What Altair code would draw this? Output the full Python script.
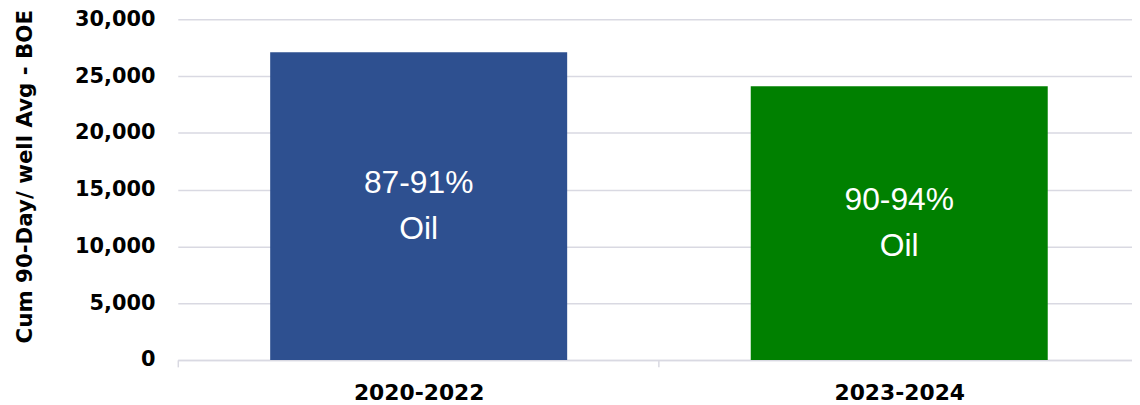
import altair as alt
import pandas as pd

periods = ["2020-2022", "2023-2024"]
values = [27100, 24100]
labels = ["87-91%\nOil", "90-94%\nOil"]
colors = ["#2E5090", "#008000"]
y_ticks = [0, 5000, 10000, 15000, 20000, 25000, 30000]

df = pd.DataFrame({"period": periods, "value": values, "label": labels, "color": colors})

xscale = alt.Scale(paddingInner=0.382, paddingOuter=0.1838, align=0.523)

x = alt.X("period:N", sort=periods, scale=xscale,
          axis=alt.Axis(title=None, labelAngle=0, labelFont="DejaVu Sans", labelFontWeight="bold",
                        labelFontSize=22, labelColor="#000000", labelPadding=16,
                        domainColor="#D9D9E2", domainWidth=1.5, tickColor="#D9D9E2", tickWidth=1.5,
                        tickSize=7, tickOffset=-242.5, labelOffset=242.5, grid=False))

y = alt.Y("value:Q", scale=alt.Scale(domain=[0, 30000], nice=False),
          axis=alt.Axis(title="Cum 90-Day/ well Avg - BOE", values=y_ticks,
                        format=",.0f", labelFont="DejaVu Sans", labelFontWeight="bold", labelFontSize=21,
                        labelColor="#000000", labelPadding=23, ticks=False, domain=False,
                        gridColor="#D9D9E2", gridWidth=1.5,
                        titleFont="DejaVu Sans", titleFontWeight="bold", titleFontSize=21.5,
                        titleColor="#000000", titleX=-153, titleY=158, titleBaseline="middle",
                        titleAngle=-90))

bars = alt.Chart(df).mark_bar().encode(
    x=x, y=y, color=alt.Color("color:N", scale=None)
)

text = alt.Chart(df).transform_calculate(mid="datum.value / 2").mark_text(
    color="white", font="Liberation Sans", fontSize=32, lineBreak="\n", lineHeight=46,
    baseline="middle", align="center", dy=-23
).encode(
    x=alt.X("period:N", sort=periods, scale=xscale),
    y=alt.Y("mid:Q"),
    text="label:N",
)

chart = alt.layer(bars, text).properties(
    width=961, height=343,
    autosize=alt.AutoSizeParams(type="none"),
    padding={"left": 171, "top": 10, "right": 0, "bottom": 44},
).configure_view(stroke=None)

chart.save("out.html", embed_options={"renderer": "svg", "actions": False})
